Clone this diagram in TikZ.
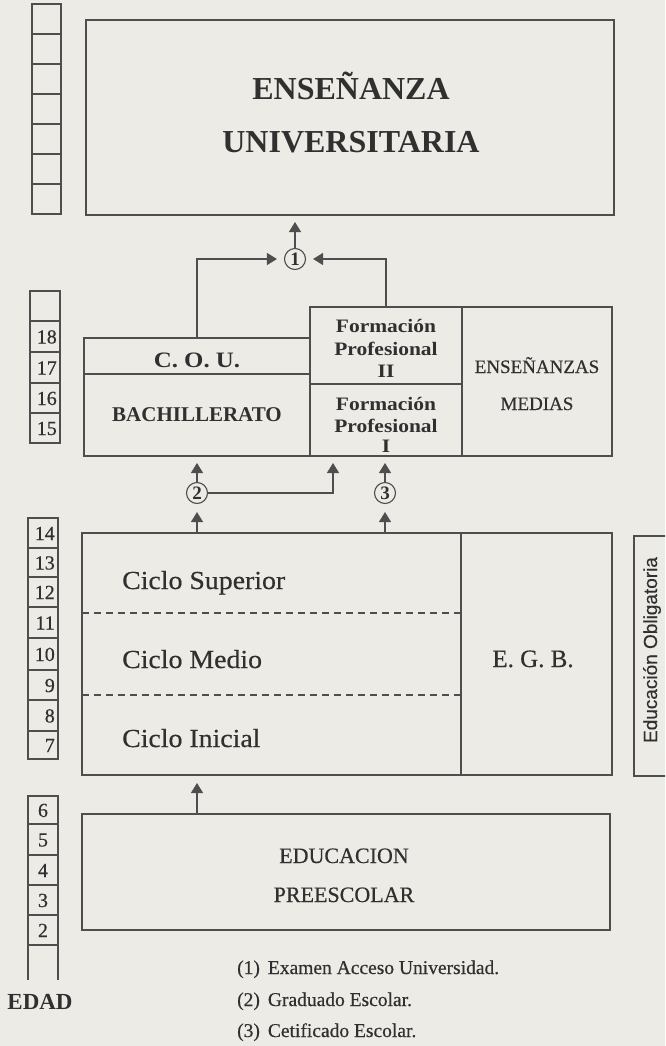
\documentclass[tikz,border=0pt]{standalone}
\usepackage{fontspec}
\setmainfont{Liberation Serif}
\newfontfamily\wideserif[FakeStretch=1.13]{Liberation Serif}
\newfontfamily\medserif[FakeBold=0.5]{Liberation Serif}
\newfontfamily\cicloserif[FakeBold=0.5,FakeStretch=1.07]{Liberation Serif}
\newfontfamily\obfont[FakeBold=0.3]{Liberation Sans}
\usetikzlibrary{arrows.meta,calc}
\definecolor{bg}{RGB}{236,235,229}
\definecolor{ln}{RGB}{78,78,78}
\definecolor{tx}{RGB}{48,48,48}
\begin{document}
\begin{tikzpicture}[x=1pt,y=-1pt,
  box/.style={draw=ln, line width=1.25pt, rectangle, inner sep=0pt, outer sep=0pt, anchor=north west},
  cell/.style={draw=ln, line width=1.1pt, rectangle, inner sep=0pt, outer sep=0pt, anchor=north west},
  lbl/.style={text=tx, inner sep=0pt, anchor=base},
  num/.style={text=tx, inner sep=0pt, font=\medserif\fontsize{20}{20}\selectfont},
  arr/.style={draw=ln, line width=1.25pt, -{Triangle[length=10pt,width=12pt]}},
  circ/.style={circle, draw=ln, line width=1.1pt, minimum size=21pt, inner sep=0pt, text=tx, font=\bfseries\fontsize{19}{19}\selectfont},
  dashline/.style={draw=ln, line width=1.1pt, dash pattern=on 7pt off 5pt},
]
\fill[bg] (0,0) rectangle (665,1046);
\useasboundingbox (0,0) rectangle (665,1046);

% ---------------- age columns ----------------
\foreach \y [count=\i] in {4,34,64,94,124,154,184}{
  \node[cell, minimum width=29pt, minimum height=30pt] (ageA\i) at (32,\y) {};
}
\node[cell, minimum width=30pt, minimum height=30pt] (ageB0) at (30,291) {};
\foreach \y/\h/\n in {321/31/18,352/31/17,383/30/16,413/30/15}{
  \node[cell, minimum width=30pt, minimum height=\h pt] (age\n) at (30,\y) {};
  \node[num, anchor=base east] (t\n) at ($(age\n.east)+(-3,7)$) {\n};
}
\foreach \y/\h/\n in {518/30/14,548/29/13,577/30/12,607/31/11,638/32/10,670/30/9,700/31/8,731/28/7}{
  \node[cell, minimum width=30pt, minimum height=\h pt] (age\n) at (28,\y) {};
  \node[num, anchor=base east] (t\n) at ($(age\n.east)+(-3,7)$) {\n};
}
\foreach \y/\h/\n in {796/28/6,824/31/5,855/30/4,885/30/3,915/30/2}{
  \node[cell, minimum width=30pt, minimum height=\h pt] (age\n) at (28,\y) {};
  \node[num, anchor=base] (t\n) at ($(age\n.center)+(0,7)$) {\n};
}
\coordinate (openL) at (28,980);
\draw[ln, line width=1.1pt] (age2.south west) -- (openL);
\draw[ln, line width=1.1pt] (age2.south east) -- (age2.south east |- openL);
\node[lbl, font=\bfseries\fontsize{23}{23}\selectfont] (edad) at (40,1009) {EDAD};

% ---------------- university ----------------
\node[box, minimum width=528pt, minimum height=195pt] (univ) at (86,20) {};
\node[lbl, font=\bfseries\fontsize{32}{32}\selectfont] (u1) at (351,100) {ENSEÑANZA};
\node[lbl, font=\bfseries\fontsize{32}{32}\selectfont] (u2) at (351,152) {UNIVERSITARIA};

\node[circ] (c1) at (295,259) {1};

% ---------------- medias ----------------
\node[box, minimum width=226pt, minimum height=36pt] (cou) at (84,338) {};
\node[box, minimum width=226pt, minimum height=82pt] (bach) at (84,374) {};
\node[box, minimum width=152pt, minimum height=77pt] (fp2) at (310,307) {};
\node[box, minimum width=152pt, minimum height=72pt] (fp1) at (310,384) {};
\node[box, minimum width=150pt, minimum height=149pt] (medias) at (462,307) {};

\node[lbl, font=\wideserif\bfseries\fontsize{22}{22}\selectfont] (tcou) at (197,367) {C. O. U.};
\node[lbl, font=\bfseries\fontsize{21}{21}\selectfont] (tbach) at (197,421) {BACHILLERATO};
\begin{scope}[every node/.style={lbl, font=\wideserif\bfseries\fontsize{19}{19}\selectfont}]
\node (f2a) at (386,332) {Formación};
\node (f2b) at (386,355) {Profesional};
\node (f2c) at (386,377) {II};
\node (f1a) at (386,410) {Formación};
\node (f1b) at (386,432) {Profesional};
\node (f1c) at (386,452) {I};
\end{scope}
\node[lbl, font=\medserif\fontsize{19}{19}\selectfont] (em1) at (537,373) {ENSEÑANZAS};
\node[lbl, font=\medserif\fontsize{19}{19}\selectfont] (em2) at (537,410) {MEDIAS};

\node[circ] (c2) at (197,493) {2};
\node[circ] (c3) at (385,493) {3};
\coordinate (fpin) at (333,456);

% ---------------- E.G.B. ----------------
\node[box, minimum width=379pt, minimum height=242pt] (egb) at (82,533) {};
\node[box, minimum width=151pt, minimum height=242pt] (egbr) at (461,533) {};
\draw[dashline] (82,613) -- (461,613);
\draw[dashline] (82,695) -- (461,695);
\begin{scope}[every node/.style={text=tx, inner sep=0pt, anchor=base west, font=\cicloserif\fontsize{26}{26}\selectfont}]
\node (cs) at (122,589) {Ciclo Superior};
\node (cm) at (122,668) {Ciclo Medio};
\node (ci) at (122,747) {Ciclo Inicial};
\end{scope}
\node[lbl, font=\medserif\fontsize{25}{25}\selectfont] (tegb) at (533,667) {E. G. B.};

\begin{scope}
\clip (0,0) rectangle (665,1046);
\node[box, minimum width=60pt, minimum height=240pt] (oblig) at (634,536) {};
\end{scope}
\node[text=tx, inner sep=0pt, rotate=90, font=\obfont\fontsize{19}{19}\selectfont] (tob) at (652,650) {Educación Obligatoria};

% ---------------- preescolar ----------------
\node[box, minimum width=528pt, minimum height=116pt] (pre) at (82,814) {};
\node[lbl, font=\medserif\fontsize{22}{22}\selectfont] (p1) at (344,863) {EDUCACION};
\node[lbl, font=\medserif\fontsize{22}{22}\selectfont] (p2) at (344,902) {PREESCOLAR};

% ---------------- legend ----------------
\begin{scope}[every node/.style={text=tx, inner sep=0pt, anchor=base west, font=\medserif\fontsize{19.5}{19.5}\selectfont}]
\node (l1) at (237,974) {(1)\hspace{8pt}Examen Acceso Universidad.};
\node (l2) at (237,1006) {(2)\hspace{8pt}Graduado Escolar.};
\node (l3) at (237,1037) {(3)\hspace{8pt}Cetificado Escolar.};
\end{scope}

% ---------------- connectors ----------------
\draw[arr, shorten >=7pt] (c1.north) -- (c1.north |- univ.south);
\draw[arr, shorten >=7pt] (cou.north) |- (c1.west);
\draw[arr, shorten >=7pt] (fp2.north) |- (c1.east);
\draw[arr, shorten >=7pt] (c2.north) -- (c2.north |- bach.south);
\draw[arr, shorten >=7pt] (c2.east) -| (fpin);
\draw[arr, shorten >=7pt] (c3.north) -- (c3.north |- fp1.south);
\draw[arr, shorten >=8pt] (c2.south |- egb.north) -- (c2.south);
\draw[arr, shorten >=8pt] (c3.south |- egb.north) -- (c3.south);
\draw[arr, shorten >=8pt] (c2.south |- pre.north) -- (c2.south |- egb.south);
\end{tikzpicture}
\end{document}
